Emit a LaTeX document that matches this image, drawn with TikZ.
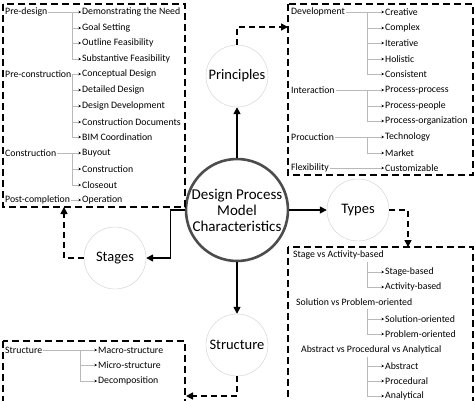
\documentclass[tikz,border=0pt]{standalone}
\usepackage{fontspec}
\setmainfont{Carlito}
\usetikzlibrary{arrows.meta}
\tikzset{
    item/.style={anchor=west, inner xsep=1pt, inner ysep=0.5pt, font=\fontsize{9.8}{11}\selectfont},
    topic/.style={circle, draw=gray!40, thin, minimum size=62pt, inner sep=0pt, font=\fontsize{14.5}{16}\selectfont},
    hub/.style={circle, draw=black!70, line width=2.6pt, minimum size=102pt, inner sep=-3pt, align=center, font=\fontsize{15}{16}\selectfont},
    mainarrow/.style={-{Triangle[length=7pt,width=7pt]}, line width=1.5pt},
    dasharrow/.style={mainarrow, dash pattern=on 6pt off 4pt},
    dbox/.style={line width=1.8pt, dash pattern=on 7pt off 4pt},
    tree/.style={-{Stealth[length=2.5pt,width=2.5pt,black]}, draw=gray!55, line width=0.5pt}
}
\begin{document}
\begin{tikzpicture}[x=1pt, y=-1pt]
    \useasboundingbox (0,0) rectangle (474,400);
    % circles
    \node[hub] (dpm) at (237,210) {Design Process\\Model\\Characteristics};
    \node[topic] (prin) at (237,76) {Principles};
    \node[topic] (typ) at (358,210) {Types};
    \node[topic] (stg) at (115,258) {Stages};
    \node[topic] (str) at (237,345) {Structure};
    \draw[mainarrow] (dpm) -- (prin);
    \draw[mainarrow] (dpm) -- (typ);
    \draw[mainarrow] (dpm) -- (str);
    \draw[mainarrow] (dpm.west) -- ++(-14,0) |- (stg.east);

    % boxes
    \draw[dbox] (3,4) rectangle (185,207);
    \draw[dbox] (288,4) rectangle (473,175);
    \draw[dbox] (288,247) rectangle (473,420);
    \draw[dbox] (3,341) rectangle (185,420);
    \coordinate (pin) at (288,27); \coordinate (tin) at (408,247);
    \coordinate (sin) at (186,396); \coordinate (gin) at (64,207);
    \draw[dasharrow] (prin.north) |- (pin);
    \draw[dasharrow] (typ.east) -| (tin);
    \draw[dasharrow] (str.south) |- (sin);
    \draw[dasharrow] (stg.west) -| (gin);

    % stages box
    \node[item] (pd) at (4,12) {Pre-design};
    \node[item] (pcn) at (4,74) {Pre-construction};
    \node[item] (con) at (4,153) {Construction};
    \node[item] (pco) at (4,200) {Post-completion};
    \node[item] (dtn) at (81,12) {Demonstrating the Need};
    \node[item] (gls) at (81,28) {Goal Setting};
    \node[item] (ofe) at (81,43) {Outline Feasibility};
    \node[item] (sfe) at (81,59) {Substantive Feasibility};
    \node[item] (cds) at (81,74) {Conceptual Design};
    \node[item] (dds) at (81,90) {Detailed Design};
    \node[item] (ddv) at (81,106) {Design Development};
    \node[item] (cdc) at (81,122) {Construction Documents};
    \node[item] (bim) at (81,137) {BIM Coordination};
    \node[item] (buy) at (81,153) {Buyout};
    \node[item] (cst) at (81,169) {Construction};
    \node[item] (cls) at (81,185) {Closeout};
    \node[item] (opr) at (81,200) {Operation};
    \coordinate (bpd) at (72,12); \coordinate (bpc) at (72,74); \coordinate (bco) at (72,153);
    \draw[tree] (pd.east) -- (dtn.west); \draw[tree] (bpd) |- (gls.west);
    \draw[tree] (bpd) |- (ofe.west); \draw[tree] (bpd) |- (sfe.west);
    \draw[tree] (pcn.east) -- (cds.west); \draw[tree] (bpc) |- (dds.west);
    \draw[tree] (bpc) |- (ddv.west); \draw[tree] (bpc) |- (cdc.west);
    \draw[tree] (bpc) |- (bim.west);
    \draw[tree] (con.east) -- (buy.west); \draw[tree] (bco) |- (cst.west);
    \draw[tree] (bco) |- (cls.west);
    \draw[tree] (pco.east) -- (opr.west);

    % principles box
    \node[item] (dev) at (290,12) {Development};
    \node[item] (itr) at (290,90) {Interaction};
    \node[item] (prc) at (290,137) {Procuction};
    \node[item] (flx) at (290,168) {Flexibility};
    \node[item] (cre) at (384,12) {Creative};
    \node[item] (cpx) at (384,28) {Complex};
    \node[item] (itv) at (384,43) {Iterative};
    \node[item] (hol) at (384,59) {Holistic};
    \node[item] (cns) at (384,74) {Consistent};
    \node[item] (ppr) at (384,90) {Process-process};
    \node[item] (ppe) at (384,106) {Process-people};
    \node[item] (por) at (384,121) {Process-organization};
    \node[item] (tec) at (384,137) {Technology};
    \node[item] (mkt) at (384,153) {Market};
    \node[item] (cus) at (384,168) {Customizable};
    \coordinate (bdv) at (367,12); \coordinate (bit) at (367,90); \coordinate (bpr) at (367,137);
    \draw[tree] (dev.east) -- (cre.west); \draw[tree] (bdv) |- (cpx.west);
    \draw[tree] (bdv) |- (itv.west); \draw[tree] (bdv) |- (hol.west);
    \draw[tree] (bdv) |- (cns.west);
    \draw[tree] (itr.east) -- (ppr.west); \draw[tree] (bit) |- (ppe.west);
    \draw[tree] (bit) |- (por.west);
    \draw[tree] (prc.east) -- (tec.west); \draw[tree] (bpr) |- (mkt.west);
    \draw[tree] (flx.east) -- (cus.west);

    % types box
    \node[item] (sab) at (292,255) {Stage vs Activity-based};
    \node[item] (spo) at (295,302) {Solution vs Problem-oriented};
    \node[item] (apa) at (300,350) {Abstract vs Procedural vs Analytical};
    \node[item] (sbd) at (384,272) {Stage-based};
    \node[item] (abd) at (384,287) {Activity-based};
    \node[item] (sol) at (384,319) {Solution-oriented};
    \node[item] (pro) at (384,334) {Problem-oriented};
    \node[item] (abs) at (384,366) {Abstract};
    \node[item] (prd) at (384,381) {Procedural};
    \node[item] (anl) at (384,396) {Analytical};
    \coordinate (bsa) at (367,262); \coordinate (bsp) at (367,309); \coordinate (bap) at (367,357);
    \draw[tree] (bsa) |- (sbd.west); \draw[tree] (bsa) |- (abd.west);
    \draw[tree] (bsp) |- (sol.west); \draw[tree] (bsp) |- (pro.west);
    \draw[tree] (bap) |- (abs.west); \draw[tree] (bap) |- (prd.west);
    \draw[tree] (bap) |- (anl.west);

    % structure box
    \node[item] (stc) at (4,350) {Structure};
    \node[item] (mac) at (97,350) {Macro-structure};
    \node[item] (mic) at (97,365) {Micro-structure};
    \node[item] (dec) at (97,381) {Decomposition};
    \coordinate (bst) at (80,350);
    \draw[tree] (stc.east) -- (mac.west); \draw[tree] (bst) |- (mic.west);
    \draw[tree] (bst) |- (dec.west);
\end{tikzpicture}
\end{document}
